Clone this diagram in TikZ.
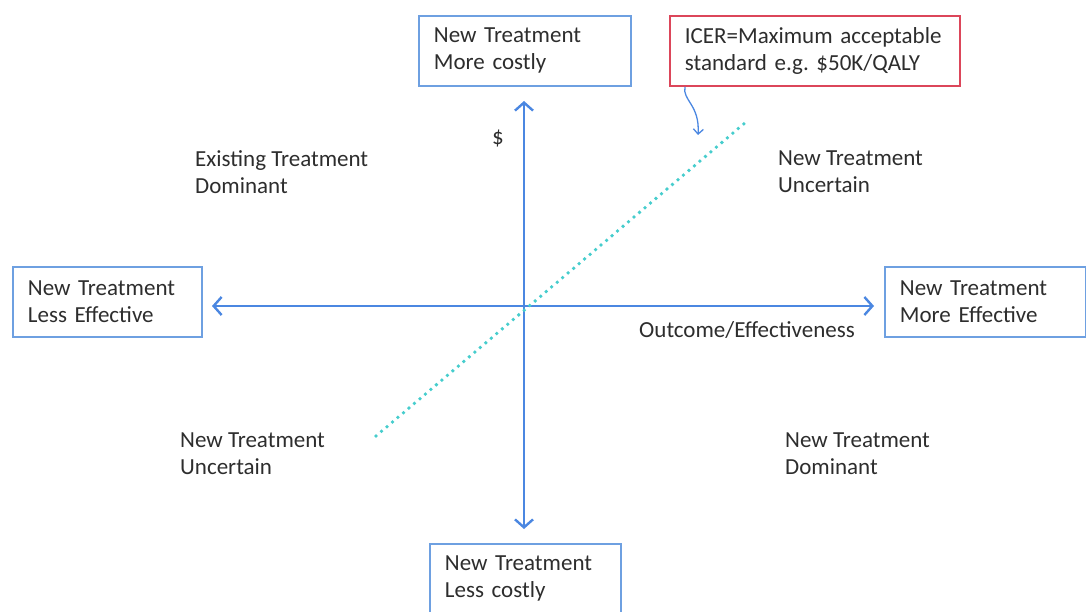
\documentclass[tikz,border=0pt]{standalone}
\usepackage{fontspec}
\setmainfont{Carlito}
\usetikzlibrary{arrows.meta}
\definecolor{boxblue}{RGB}{110,160,225}
\definecolor{axisblue}{RGB}{75,135,225}
\definecolor{boxred}{RGB}{220,70,90}
\definecolor{icerline}{RGB}{70,205,205}
\definecolor{txt}{RGB}{45,45,45}
\begin{document}
\frenchspacing
\begin{tikzpicture}[x=1pt,y=-1pt,
  every node/.style={font=\fontsize{23pt}{27pt}\selectfont, text=txt},
  quadbox/.style={draw=boxblue, line width=1.8pt, anchor=north west, align=left,
    inner xsep=15pt, inner ysep=0pt, minimum height=70pt},
  redbox/.style={quadbox, draw=boxred},
  label/.style={anchor=west, align=left, inner sep=0pt},
  axis/.style={draw=axisblue, line width=2.4pt,
    -{Straight Barb[length=8pt,width=18pt,line width=2.4pt]}},
  icer/.style={draw=icerline, line width=3.8pt, line cap=round,
    dash pattern=on 0pt off 7.2pt}]
\useasboundingbox (0,0) rectangle (1086,612);

% outcome boxes at the ends of the axes
\node[quadbox, text width=182pt] (more) at (418,15) {New Treatment\\More costly};
\node[quadbox, text width=161pt] (less) at (429,543) {New Treatment\\Less costly};
\node[quadbox, text width=159pt] (lesseff) at (12,266) {New Treatment\\Less Effective};
\node[quadbox, text width=171pt] (moreeff) at (884,266) {New Treatment\\More Effective};
\node[redbox, text width=260pt] (icerbox) at (669,15) {ICER=Maximum acceptable\\standard e.g. \$50K/QALY};

% cost-effectiveness plane
\coordinate (o) at (524,306);
\coordinate (up) at (524,101);
\coordinate (down) at (524,529);
\coordinate (left) at (212,306);
\coordinate (right) at (874,306);
\draw[axis] (o) -- (up);
\draw[axis] (o) -- (down);
\draw[axis] (o) -- (left);
\draw[axis] (o) -- (right);

% willingness-to-pay threshold
\coordinate (icerlo) at (376,436);
\coordinate (icerhi) at (746,122);
\draw[icer] (icerlo) -- (icerhi);

% pointer from the threshold note
\coordinate (tip) at (698,135);
\draw[axisblue, line width=1.3pt, -{Straight Barb[length=5pt,width=10pt,line width=1.3pt]}]
  (icerbox.south west) ++(16,0) coordinate (src)
  (src) .. controls (682,100) and (700,105) .. (tip);

% axis and quadrant labels
\node[label] (cost) at (492,139) {\$};
\node[label] (outcome) at (639,330) {Outcome/Effectiveness};
\node[label] (nw) at (195,172) {Existing Treatment\\Dominant};
\node[label] (ne) at (778,172) {New Treatment\\Uncertain};
\node[label] (sw) at (180,454) {New Treatment\\Uncertain};
\node[label] (se) at (785,454) {New Treatment\\Dominant};
\end{tikzpicture}
\end{document}
